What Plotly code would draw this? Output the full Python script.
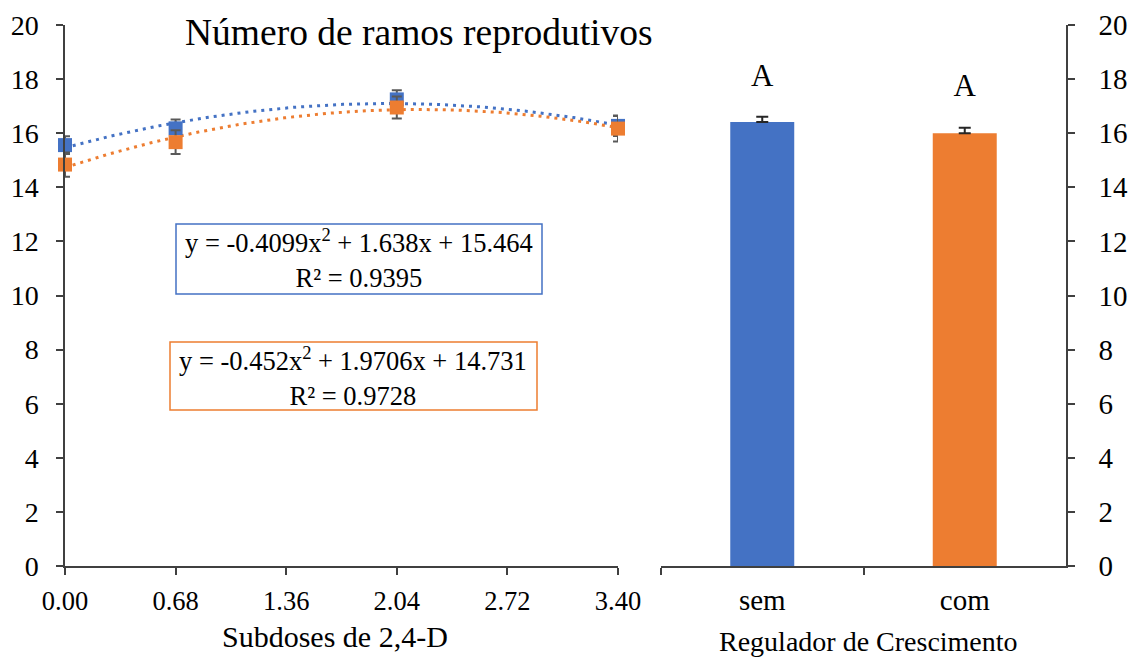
import numpy as np
import plotly.graph_objects as go

# Left panel: doses of 2,4-D and mean number of reproductive branches
doses = [0.00, 0.68, 2.04, 3.40]
sem_vals = [15.56, 16.18, 17.25, 16.27]
sem_err = [0.33, 0.33, 0.34, 0.37]
com_vals = [14.84, 15.67, 16.95, 16.17]
com_err = [0.45, 0.44, 0.41, 0.48]

# Quadratic fits shown in the equation boxes
sem_fit = [-0.4099, 1.638, 15.464]
com_fit = [-0.452, 1.9706, 14.731]
sem_eq = "y = -0.4099x<sup>2</sup> + 1.638x + 15.464<br>R² = 0.9395"
com_eq = "y = -0.452x<sup>2</sup> + 1.9706x + 14.731<br>R² = 0.9728"

# Right panel: growth regulator means
reg_cats = ["sem", "com"]
reg_vals = [16.41, 16.00]
reg_err = [0.20, 0.20]
reg_letters = ["A", "A"]
letter_y = [18.05, 17.65]

x_ticks = [0.00, 0.68, 1.36, 2.04, 2.72, 3.40]
y_ticks = list(range(0, 21, 2))

BLUE = "#4472C4"
ORANGE = "#ED7D31"
GREY = "#595959"
FONT = "Liberation Serif"
W, H = 1131, 657


def px(x):
    return x / W


def py(y):
    return 1 - y / H


fig = go.Figure()

xs = np.linspace(0, 3.4, 200)
for coef, color in [(sem_fit, BLUE), (com_fit, ORANGE)]:
    fig.add_trace(go.Scatter(
        x=xs, y=np.polyval(coef, xs), mode="lines",
        line=dict(color=color, width=3, dash="3px,5px"),
        xaxis="x", yaxis="y", hoverinfo="skip", showlegend=False,
    ))

for vals, err, color in [(sem_vals, sem_err, BLUE), (com_vals, com_err, ORANGE)]:
    fig.add_trace(go.Scatter(
        x=doses, y=vals, mode="markers",
        marker=dict(symbol="square", size=14, color=color),
        error_y=dict(type="data", array=err, color=GREY, thickness=2, width=5),
        xaxis="x", yaxis="y", cliponaxis=False, showlegend=False,
    ))

fig.add_trace(go.Bar(
    x=reg_cats, y=reg_vals, marker=dict(color=[BLUE, ORANGE], line=dict(width=0)),
    error_y=dict(type="data", symmetric=False, array=reg_err, arrayminus=[0, 0],
                 color="#262626", thickness=2, width=6),
    width=0.316, xaxis="x2", yaxis="y2", showlegend=False,
))

fig.add_trace(go.Scatter(
    x=reg_cats, y=letter_y, mode="text", text=reg_letters,
    textfont=dict(family=FONT, size=31, color="black"),
    xaxis="x2", yaxis="y2", showlegend=False, hoverinfo="skip",
))


def axis_style(size):
    return dict(
        showline=True, linecolor="#404040", linewidth=1.5, showgrid=False,
        zeroline=False, ticks="outside", tickcolor="#404040", tickwidth=1.5,
        ticklen=7, automargin=False,
        tickfont=dict(family=FONT, size=size, color="black"),
    )


fig.update_layout(
    width=W, height=H,
    margin=dict(l=0, r=0, t=0, b=0),
    paper_bgcolor="white", plot_bgcolor="white",
    xaxis=dict(domain=[px(65), px(618)], range=[0, 3.4], tickvals=x_ticks,
               tickformat=".2f", anchor="y", ticklabelstandoff=3, **axis_style(26.5)),
    yaxis=dict(domain=[py(566), py(25)], range=[0, 20], tickvals=y_ticks,
               anchor="x", ticklabelstandoff=12, **axis_style(28)),
    xaxis2=dict(domain=[px(661), px(1066)], range=[-0.5, 1.5], type="category",
                tickson="boundaries", anchor="y2", ticklabelstandoff=7,
                **axis_style(29)),
    yaxis2=dict(domain=[py(566), py(25)], range=[0, 20], tickvals=y_ticks,
                side="right", anchor="x2", ticklabelstandoff=18, **axis_style(29)),
    shapes=[
        dict(type="rect", xref="paper", yref="paper", x0=px(176), x1=px(542),
             y0=py(294), y1=py(224), line=dict(color=BLUE, width=1.5)),
        dict(type="rect", xref="paper", yref="paper", x0=px(170), x1=px(537),
             y0=py(410), y1=py(342), line=dict(color=ORANGE, width=1.5)),
    ],
    annotations=[
        dict(text=sem_eq, xref="paper", yref="paper", x=px(359), y=py(259),
             xanchor="center", yanchor="middle", align="center", showarrow=False,
             font=dict(family=FONT, size=26.5, color="black")),
        dict(text=com_eq, xref="paper", yref="paper", x=px(353), y=py(376),
             xanchor="center", yanchor="middle", align="center", showarrow=False,
             font=dict(family=FONT, size=26.5, color="black")),
        dict(text="Número de ramos reprodutivos", xref="paper", yref="paper",
             x=px(419), y=py(32), xanchor="center", yanchor="middle", showarrow=False,
             font=dict(family=FONT, size=37.5, color="black")),
        dict(text="Subdoses de 2,4-D", xref="paper", yref="paper",
             x=px(335), y=py(636), xanchor="center", yanchor="middle", showarrow=False,
             font=dict(family=FONT, size=30, color="black")),
        dict(text="Regulador de Crescimento", xref="paper", yref="paper",
             x=px(868), y=py(641), xanchor="center", yanchor="middle", showarrow=False,
             font=dict(family=FONT, size=28, color="black")),
    ],
)

fig.write_html("out.html")
